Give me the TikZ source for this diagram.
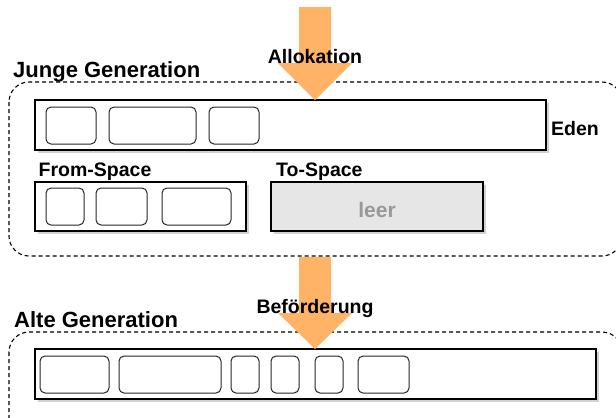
\documentclass[tikz,border=0pt]{standalone}
\usepackage{fontspec}
\setmainfont{Liberation Sans}
\definecolor{arrowc}{RGB}{255,179,102}
\definecolor{tofill}{RGB}{230,230,230}
\definecolor{leertxt}{RGB}{153,153,153}
\begin{document}
\begin{tikzpicture}[x=1bp,y=-1bp,
  lbl/.style={inner sep=0pt, font=\bfseries\fontsize{19.5bp}{22bp}\selectfont},
  title/.style={inner sep=0pt, font=\bfseries\fontsize{22bp}{24bp}\selectfont},
  region/.style={draw=black, line width=1.1bp, dash pattern=on 4bp off 3bp, rounded corners=20bp},
  spacebox/.style={draw=black, line width=1.1bp, fill=white},
  shadowbox/.style={fill=black!18, draw=none},
  cell/.style={draw=black!85, line width=1bp, rounded corners=5bp, fill=white},
  flow/.style={fill=arrowc, draw=none}]
\useasboundingbox (0,0) rectangle (616,417);
\clip (0,0) rectangle (616,417);
% regions
\draw[region] (9,82) rectangle (622,256);
\draw[region] (9,332) rectangle (622,440);
% shadows
\fill[shadowbox] (38,103) rectangle (549,153);
\fill[shadowbox] (38,185) rectangle (249,234);
\fill[shadowbox] (274,185) rectangle (486,234);
\fill[shadowbox] (38,352) rectangle (599,402);
% spaces
\draw[spacebox] (35,100) rectangle (546,150);
\draw[spacebox] (35,182) rectangle (246,231);
\draw[spacebox, fill=tofill] (271,182) rectangle (483,231);
\draw[spacebox] (35,349) rectangle (596,399);
% eden cells
\draw[cell] (46,107) rectangle (96,144);
\draw[cell] (109,107) rectangle (196,144);
\draw[cell] (209,107) rectangle (259,144);
% from cells
\draw[cell] (46,188) rectangle (84,225);
\draw[cell] (96,188) rectangle (147,225);
\draw[cell] (162,188) rectangle (231,225);
% old cells
\draw[cell] (40,356) rectangle (109,393);
\draw[cell] (119,356) rectangle (221,393);
\draw[cell] (231,356) rectangle (259,393);
\draw[cell] (271,356) rectangle (299,393);
\draw[cell] (315,356) rectangle (343,393);
\draw[cell] (358,356) rectangle (409,393);
% arrows
\fill[flow] (299,7) -- (331,7) -- (331,63) -- (352,63) -- (315,100) -- (278,63) -- (299,63) -- cycle;
\fill[flow] (299,257) -- (331,257) -- (331,313) -- (352,313) -- (315,349) -- (278,313) -- (299,313) -- cycle;
% labels
\node[title, anchor=base west] (jg) at (13,77) {Junge Generation};
\node[lbl, anchor=base] (alloc) at (315,63) {Allokation};
\node[lbl, anchor=base west] (eden) at (551,135) {Eden};
\node[lbl, anchor=base west] (from) at (38.5,176) {From-Space};
\node[lbl, anchor=base west] (to) at (276,176) {To-Space};
\node[inner sep=0pt, anchor=base, text=leertxt, font=\bfseries\fontsize{21bp}{23bp}\selectfont] (leer) at (377,217) {leer};
\node[lbl, anchor=base] (bef) at (315,313) {Beförderung};
\node[title, anchor=base west] (ag) at (14,327) {Alte Generation};
\end{tikzpicture}
\end{document}
